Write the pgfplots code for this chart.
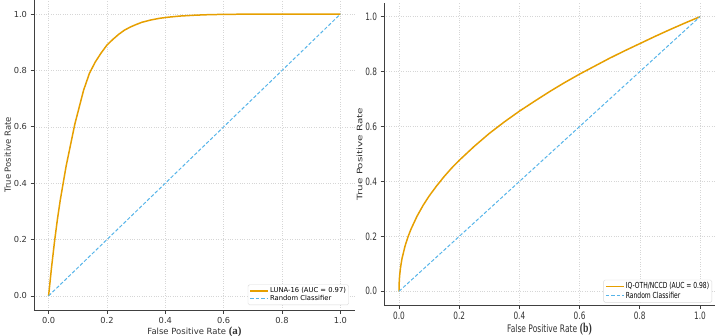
\documentclass[border=0pt]{standalone}
\usepackage{fontspec}
\setmainfont{DejaVu Sans}
\newfontfamily\timesb{Liberation Serif}
\usepackage{graphicx}
\usepackage{pgfplots}
\pgfplotsset{compat=1.18}
\definecolor{okorange}{HTML}{E69F00}
\definecolor{okblue}{HTML}{56B4E9}
\newcommand{\rs}[1]{\scalebox{0.89}[1.23]{#1}}
\pgfplotsset{
 rocstyle/.style={
  scale only axis,
  xmin=-0.05,xmax=1.05,ymin=-0.05,ymax=1.05,
  axis x line*=bottom, axis y line*=left,
  axis line style={black!75, line width=0.9pt},
  xtick={0,0.2,0.4,0.6,0.8,1.0}, ytick={0,0.2,0.4,0.6,0.8,1.0},
  tick style={black!75, line width=0.7pt}, tick align=outside,
  major tick length=3.5bp,
  grid=major, grid style={dotted, black!16, line width=0.5pt},
  /pgf/number format/assume math mode=true,
  /pgf/number format/.cd, fixed, fixed zerofill, precision=1, /pgfplots/.cd,
  legend cell align=left,
  legend style={draw=black!15, rounded corners=1.5pt, fill=white, inner sep=1.5pt,
    row sep=-1pt, nodes={inner sep=1.2pt}},
  legend image code/.code={\draw[mark repeat=2,mark phase=2,#1] plot coordinates {(0bp,0bp) (18bp,0bp)};},
 },
}
\begin{document}
\begin{tikzpicture}
\path[use as bounding box] (0bp,0bp) rectangle (716bp,336bp);
% ---------------- (a)
\begin{axis}[rocstyle,
  at={(34bp,26bp)}, anchor=south west, width=321bp, height=310bp,
  tick label style={font=\fontsize{8.3}{10}\selectfont, color=black!80},
  label style={font=\fontsize{8.5}{10}\selectfont, color=black!80},
  xlabel={False Positive Rate {\timesb\bfseries\fontsize{11}{12}\selectfont (a)}},
  ylabel={True Positive Rate},
  xlabel style={yshift=3bp},
  ylabel style={yshift=-4bp},
  legend style={at={(0.981,0.016)}, anchor=south east, font=\fontsize{6.8}{8}\selectfont},
]
\addplot[okorange, line width=1.5pt] coordinates {
(0,0) (0.005,0.05) (0.01,0.10) (0.02,0.19) (0.03,0.27) (0.04,0.34) (0.05,0.40)
(0.06,0.46) (0.07,0.51) (0.08,0.56) (0.09,0.61) (0.10,0.65) (0.11,0.69) (0.12,0.73)
(0.13,0.76) (0.14,0.79) (0.15,0.81) (0.16,0.83) (0.18,0.862) (0.20,0.89)
(0.22,0.91) (0.24,0.928) (0.26,0.943) (0.28,0.954) (0.30,0.963) (0.32,0.971)
(0.35,0.979) (0.38,0.985) (0.41,0.989) (0.45,0.993) (0.50,0.996) (0.55,0.998)
(0.60,0.999) (0.70,1.0) (0.80,1.0) (0.90,1.0) (1.0,1.0)
};
\addlegendentry{LUNA-16 (AUC = 0.97)}
\addplot[okblue, line width=1pt, dash pattern=on 3.5pt off 2pt] coordinates {(0,0) (1,1)};
\addlegendentry{Random Classifier}
\end{axis}
% ---------------- (b)
\begin{axis}[rocstyle,
  at={(384bp,31bp)}, anchor=south west, width=331bp, height=302bp,
  tick label style={font=\fontsize{8.3}{10}\selectfont, color=black!80},
  label style={font=\fontsize{8.5}{10}\selectfont, color=black!80},
  xticklabel={\rs{\pgfmathprintnumber{\tick}}},
  yticklabel={\rs{\pgfmathprintnumber{\tick}}},
  xlabel={\rs{False Positive Rate} {\timesb\bfseries\fontsize{11}{12}\selectfont\rs{(b)}}},
  ylabel={\scalebox{1.23}[0.89]{True Positive Rate}},
  xlabel style={yshift=3bp},
  ylabel style={yshift=-4bp},
  legend style={at={(0.991,0.008)}, anchor=south east, font=\fontsize{6.8}{8}\selectfont},
]
\addplot[okorange, line width=1.5pt] coordinates {
(0,0) (0.0002,0.02) (0.0005,0.030) (0.001,0.042) (0.002,0.057) (0.005,0.087) (0.01,0.120)
(0.02,0.165) (0.03,0.199) (0.04,0.227) (0.06,0.274) (0.08,0.313) (0.10,0.347)
(0.125,0.384) (0.15,0.418) (0.175,0.449) (0.20,0.477) (0.25,0.528) (0.30,0.575)
(0.35,0.617) (0.40,0.656) (0.45,0.692) (0.50,0.727) (0.55,0.760) (0.60,0.791)
(0.65,0.820) (0.70,0.849) (0.75,0.876) (0.80,0.902) (0.85,0.928) (0.90,0.953)
(0.95,0.977) (1.0,1.0)
};
\addlegendentry{\rs{IQ-OTH/NCCD (AUC = 0.98)}}
\addplot[okblue, line width=1pt, dash pattern=on 3.5pt off 2pt] coordinates {(0,0) (1,1)};
\addlegendentry{\rs{Random Classifier}}
\end{axis}
\end{tikzpicture}
\end{document}
